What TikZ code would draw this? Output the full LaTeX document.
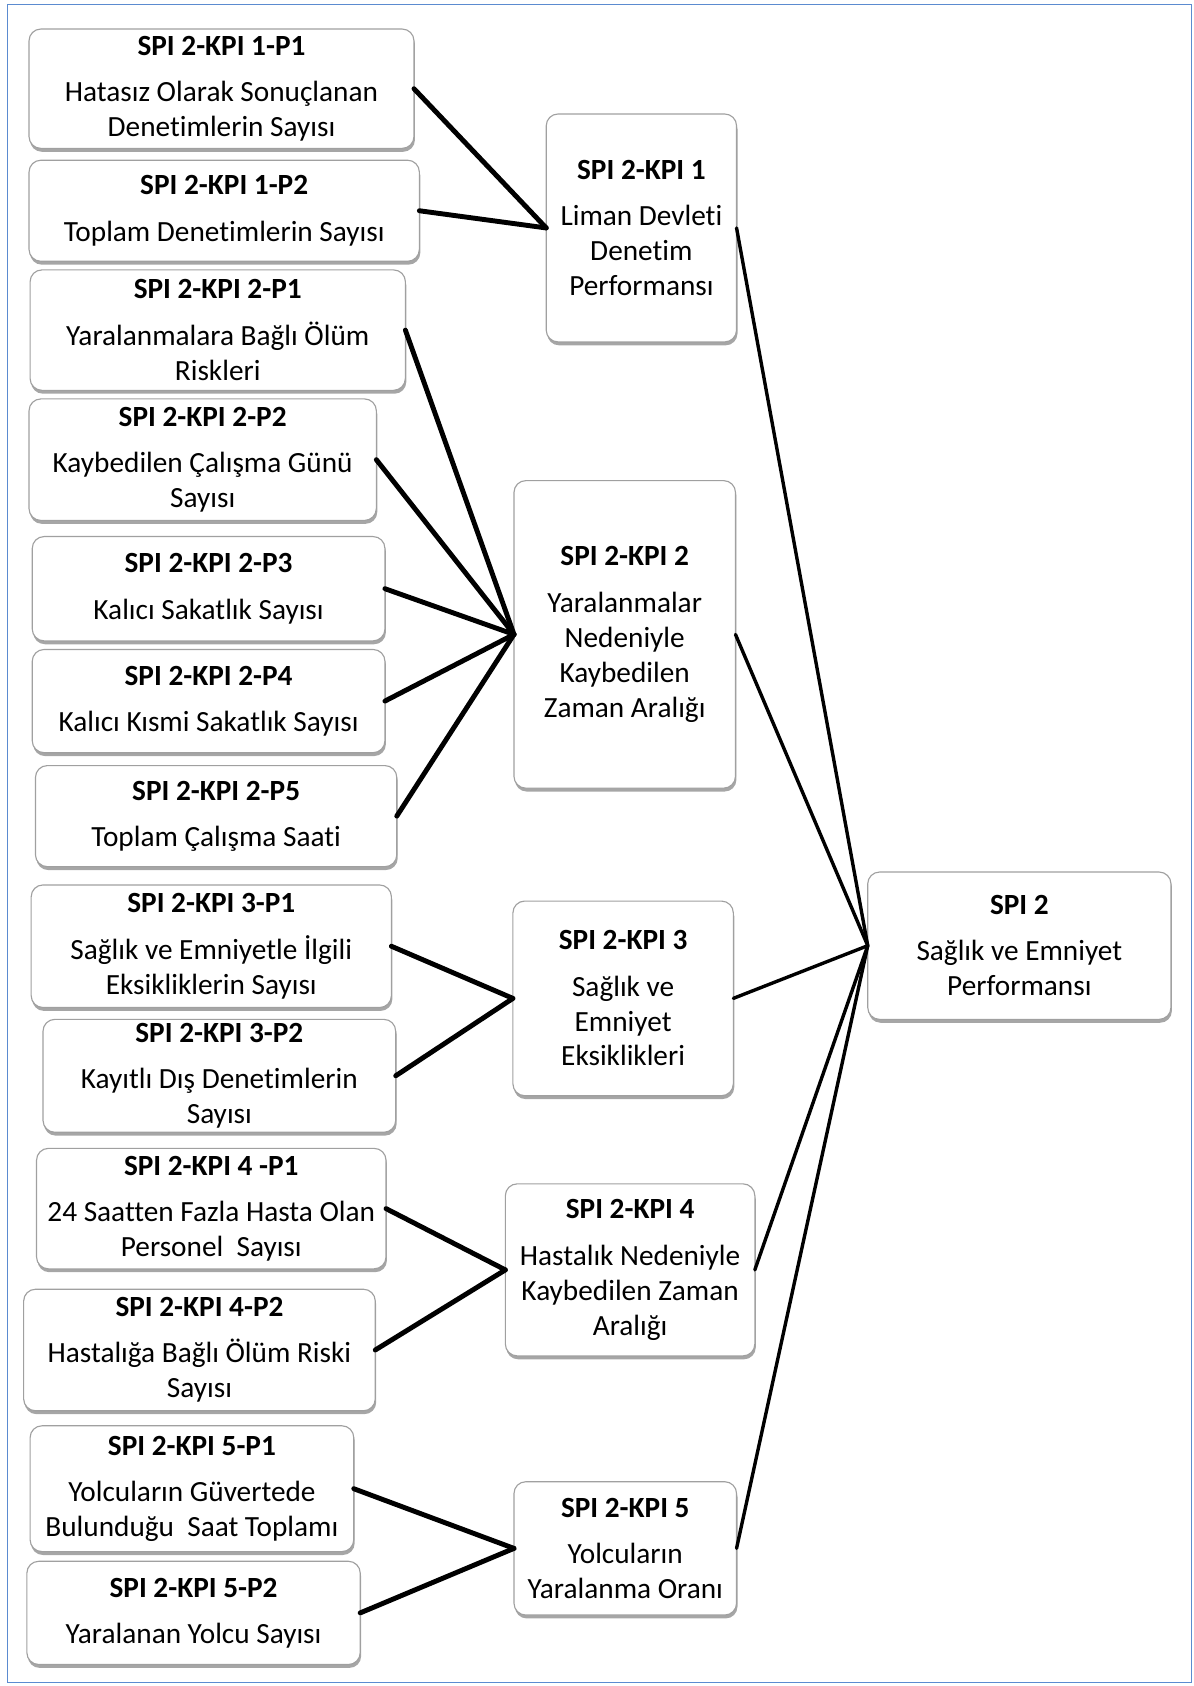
\documentclass[tikz,border=0pt]{standalone}
\usepackage{fontspec}
\setmainfont{Carlito}[Ligatures=NoCommon]
\usetikzlibrary{shadows}
\definecolor{frameblue}{HTML}{5B8BD0}
\definecolor{boxgray}{HTML}{A0A0A0}
\tikzset{
  box/.style={draw=boxgray, line width=0.6pt, fill=white, rounded corners=0.22cm,
    align=center, inner sep=1pt, outer sep=0pt,
    font=\fontsize{15.5}{18.5}\selectfont,
    drop shadow={shadow xshift=0.5pt, shadow yshift=-1.8pt, opacity=0.35, fill=black}},
  conn/.style={line width=2.6pt, black, line cap=round, line join=round},
  conn2/.style={line width=1.8pt, black, line cap=round}
}
\newcommand{\bx}[6]{\node[box, minimum width=#4*0.02cm, minimum height=#5*0.02cm] (#1) at (#2,#3) {#6};}
\newcommand{\ttl}[1]{{\bfseries #1}\\[6pt]}
\begin{document}
\begin{tikzpicture}[x=0.02cm, y=-0.02cm]
\useasboundingbox (0,0) rectangle (1110,1568);
\draw[frameblue, line width=0.7pt] (7,4) rectangle (1108,1565);
% left boxes
\bx{p11}{206}{82.5}{358}{111}{\ttl{SPI 2-KPI 1-P1}Hatasız Olarak Sonuçlanan\\Denetimlerin Sayısı}
\bx{p12}{208.5}{196}{363}{94}{\ttl{SPI 2-KPI 1-P2}Toplam Denetimlerin Sayısı}
\bx{p21}{202.5}{307}{349}{112}{\ttl{SPI 2-KPI 2-P1}Yaralanmalara Bağlı Ölüm\\Riskleri}
\bx{p22}{188.5}{427.5}{323}{113}{\ttl{SPI 2-KPI 2-P2}Kaybedilen Çalışma Günü\\Sayısı}
\bx{p23}{194}{547.5}{328}{97}{\ttl{SPI 2-KPI 2-P3}Kalıcı Sakatlık Sayısı}
\bx{p24}{194}{652}{328}{96}{\ttl{SPI 2-KPI 2-P4}Kalıcı Kısmi Sakatlık Sayısı}
\bx{p25}{201}{759}{336}{94}{\ttl{SPI 2-KPI 2-P5}Toplam Çalışma Saati}
\bx{p31}{196.5}{880}{335}{114}{\ttl{SPI 2-KPI 3-P1}Sağlık ve Emniyetle İlgili\\Eksikliklerin Sayısı}
\bx{p32}{204}{1000.5}{328}{105}{\ttl{SPI 2-KPI 3-P2}Kayıtlı Dış Denetimlerin\\Sayısı}
\bx{p41}{196.5}{1124}{325}{112}{\ttl{SPI 2-KPI 4 -P1}24 Saatten Fazla Hasta Olan\\Personel\ \ Sayısı}
\bx{p42}{185.5}{1255.5}{327}{113}{\ttl{SPI 2-KPI 4-P2}Hastalığa Bağlı Ölüm Riski\\Sayısı}
\bx{p51}{178.5}{1384.5}{301}{117}{\ttl{SPI 2-KPI 5-P1}Yolcuların Güvertede\\Bulunduğu\ \ Saat Toplamı}
\bx{p52}{180}{1500}{310}{96}{\ttl{SPI 2-KPI 5-P2}Yaralanan Yolcu Sayısı}
% middle boxes
\bx{k1}{596.5}{212}{177}{212}{\ttl{SPI 2-KPI 1}Liman Devleti\\Denetim\\Performansı}
\bx{k2}{581}{590}{206}{286}{\ttl{SPI 2-KPI 2}Yaralanmalar\\Nedeniyle\\Kaybedilen\\Zaman Aralığı}
\bx{k3}{579.5}{928.5}{205}{181}{\ttl{SPI 2-KPI 3}Sağlık ve\\Emniyet\\Eksiklikleri}
\bx{k4}{586}{1181}{232}{160}{\ttl{SPI 2-KPI 4}Hastalık Nedeniyle\\Kaybedilen Zaman\\Aralığı}
\bx{k5}{581.5}{1440}{207}{124}{\ttl{SPI 2-KPI 5}Yolcuların\\Yaralanma Oranı}
% right box
\bx{spi}{948}{879.5}{282}{137}{\ttl{SPI 2}Sağlık ve Emniyet\\Performansı}
% connectors
\draw[conn] (p11.east) -- (k1.west);
\draw[conn] (p12.east) -- (k1.west);
\draw[conn] (p21.east) -- (k2.west);
\draw[conn] (p22.east) -- (k2.west);
\draw[conn] (p23.east) -- (k2.west);
\draw[conn] (p24.east) -- (k2.west);
\draw[conn] (p25.east) -- (k2.west);
\draw[conn] (p31.east) -- (k3.west);
\draw[conn] (p32.east) -- (k3.west);
\draw[conn] (p41.east) -- (k4.west);
\draw[conn] (p42.east) -- (k4.west);
\draw[conn] (p51.east) -- (k5.west);
\draw[conn] (p52.east) -- (k5.west);
\draw[conn2] (k1.east) -- (spi.west);
\draw[conn2] (k2.east) -- (spi.west);
\draw[conn2] (k3.east) -- (spi.west);
\draw[conn2] (k4.east) -- (spi.west);
\draw[conn2] (k5.east) -- (spi.west);
\end{tikzpicture}
\end{document}
